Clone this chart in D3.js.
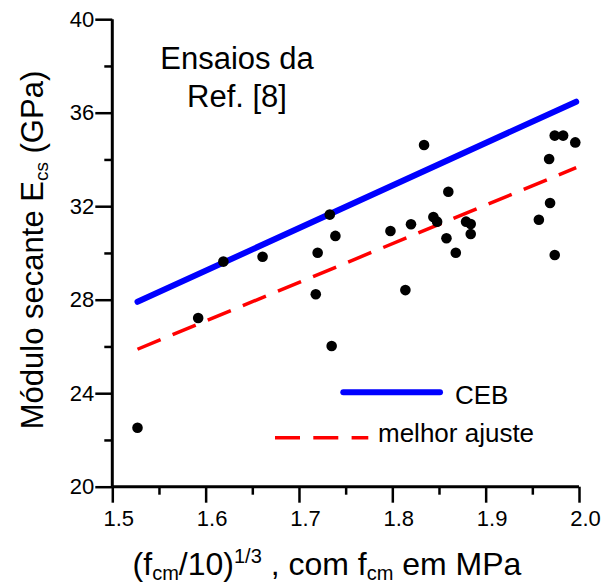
<!DOCTYPE html>
<html>
<head>
<meta charset="utf-8">
<script src="https://cdn.jsdelivr.net/npm/d3@7/dist/d3.min.js"></script>
<style>
html,body{margin:0;padding:0;background:#fff;}
svg text{font-family:Arial,"Liberation Sans",sans-serif;fill:#000;}
</style>
</head>
<body>
<svg id="chart" width="613" height="584"></svg>
<script>
// Data
const pointX = [1.527,1.592,1.619,1.661,1.718,1.720,1.733,1.735,1.739,1.798,1.814,1.820,1.834,1.844,1.848,1.858,1.860,1.868,1.879,1.884,1.884,1.957,1.968,1.969,1.974,1.974,1.983,1.996];
const pointY = [22.52,27.22,29.63,29.84,28.23,30.01,31.64,26.02,30.73,30.94,28.41,31.23,34.62,31.54,31.34,30.63,32.62,30.01,31.34,31.24,30.81,31.42,34.02,32.14,29.91,35.02,35.02,34.73];
const lineX = [1.527, 1.997];
const cebY = [27.91, 36.47];
const fitY = [25.88, 33.65];
const xTicks = [1.5,1.6,1.7,1.8,1.9,2.0];
const xMinor = [1.55,1.65,1.75,1.85,1.95];
const yTicks = [20,24,28,32,36,40];
const yMinor = [22,26,30,34,38];
const legendLabels = ["CEB","melhor ajuste"];

const svg = d3.select("#chart");
const pL = 112.3, pR = 579, pT = 19.2, pB = 486.7;
const x = d3.scaleLinear().domain([1.5,2.0]).range([pL,pR]);
const y = d3.scaleLinear().domain([20,40]).range([pB,pT]);

// axes
const xAxis = d3.axisBottom(x).tickValues(xTicks).tickSize(16).tickFormat(d3.format(".1f"));
const xAxisMinor = d3.axisBottom(x).tickValues(xMinor).tickSize(8).tickFormat("");
const yAxis = d3.axisLeft(y).tickValues(yTicks).tickSize(17).tickFormat(d3.format("d"));
const yAxisMinor = d3.axisLeft(y).tickValues(yMinor).tickSize(8).tickFormat("");

function styleAxis(g){
  g.select(".domain").attr("stroke","#000").attr("stroke-width",3);
  g.selectAll(".tick line").attr("stroke","#000").attr("stroke-width",2.5);
}
const gx = svg.append("g").attr("transform",`translate(0,${pB})`).call(xAxis).call(styleAxis);
gx.selectAll(".tick text").attr("font-size",22).attr("y",24).attr("dy","0.71em").attr("dx",6)
  .style("font-family","Arial, 'Liberation Sans', sans-serif");
const gxm = svg.append("g").attr("transform",`translate(0,${pB})`).call(xAxisMinor).call(styleAxis);
gxm.select(".domain").remove();
const gy = svg.append("g").attr("transform",`translate(${pL},0)`).call(yAxis).call(styleAxis);
gy.selectAll(".tick text").attr("font-size",22).attr("x",-18)
  .style("font-family","Arial, 'Liberation Sans', sans-serif");
const gym = svg.append("g").attr("transform",`translate(${pL},0)`).call(yAxisMinor).call(styleAxis);
gym.select(".domain").remove();
gx.select(".domain").attr("d",`M${pL},0H${pR}`);
gy.select(".domain").attr("d",`M0,${pT}V${pB}`);

// lines
const lineGen = d3.line().x(d=>x(d[0])).y(d=>y(d[1]));
svg.append("path").datum(d3.zip(lineX,cebY)).attr("d",lineGen)
  .attr("fill","none").attr("stroke","#0000ff").attr("stroke-width",6).attr("stroke-linecap","round");
svg.append("path").datum(d3.zip(lineX,fitY)).attr("d",lineGen)
  .attr("fill","none").attr("stroke","#ff0000").attr("stroke-width",3.5).attr("stroke-dasharray","25,13");

// points
svg.append("g").selectAll("circle").data(d3.zip(pointX,pointY)).join("circle")
  .attr("cx",d=>x(d[0])).attr("cy",d=>y(d[1])).attr("r",5.3).attr("fill","#000");

// legend
svg.append("line").attr("x1",343.3).attr("x2",440).attr("y1",392.3).attr("y2",392.3)
  .attr("stroke","#0000ff").attr("stroke-width",6).attr("stroke-linecap","round");
svg.append("text").attr("x",455).attr("y",404).attr("font-size",26).text(legendLabels[0]);
svg.append("line").attr("x1",275).attr("x2",368.3).attr("y1",437.7).attr("y2",437.7)
  .attr("stroke","#ff0000").attr("stroke-width",3.5).attr("stroke-dasharray","25,13.3");
svg.append("text").attr("x",378).attr("y",441.7).attr("font-size",26).text(legendLabels[1]);

// annotation
svg.append("text").attr("x",237).attr("y",69).attr("font-size",31).attr("text-anchor","middle").text("Ensaios da");
svg.append("text").attr("x",237).attr("y",107).attr("font-size",31).attr("text-anchor","middle").text("Ref. [8]");

// y title
const yt = svg.append("text").attr("transform","translate(43,250) rotate(-90)")
  .attr("text-anchor","middle").attr("font-size",31);
yt.append("tspan").text("Módulo secante E");
yt.append("tspan").attr("font-size",19).attr("dy",5).text("cs");
yt.append("tspan").attr("dy",-5).text(" (GPa)");

// x title
const xt = svg.append("text").attr("x",327).attr("y",575).attr("text-anchor","middle").attr("font-size",32);
xt.append("tspan").text("(f");
xt.append("tspan").attr("font-size",20).attr("dy",5).text("cm");
xt.append("tspan").attr("dy",-5).text("/10)");
xt.append("tspan").attr("font-size",20).attr("dy",-12).text("1/3");
xt.append("tspan").attr("dy",12).text(" , com f");
xt.append("tspan").attr("font-size",20).attr("dy",5).text("cm");
xt.append("tspan").attr("dy",-5).text(" em MPa");
</script>
</body>
</html>
